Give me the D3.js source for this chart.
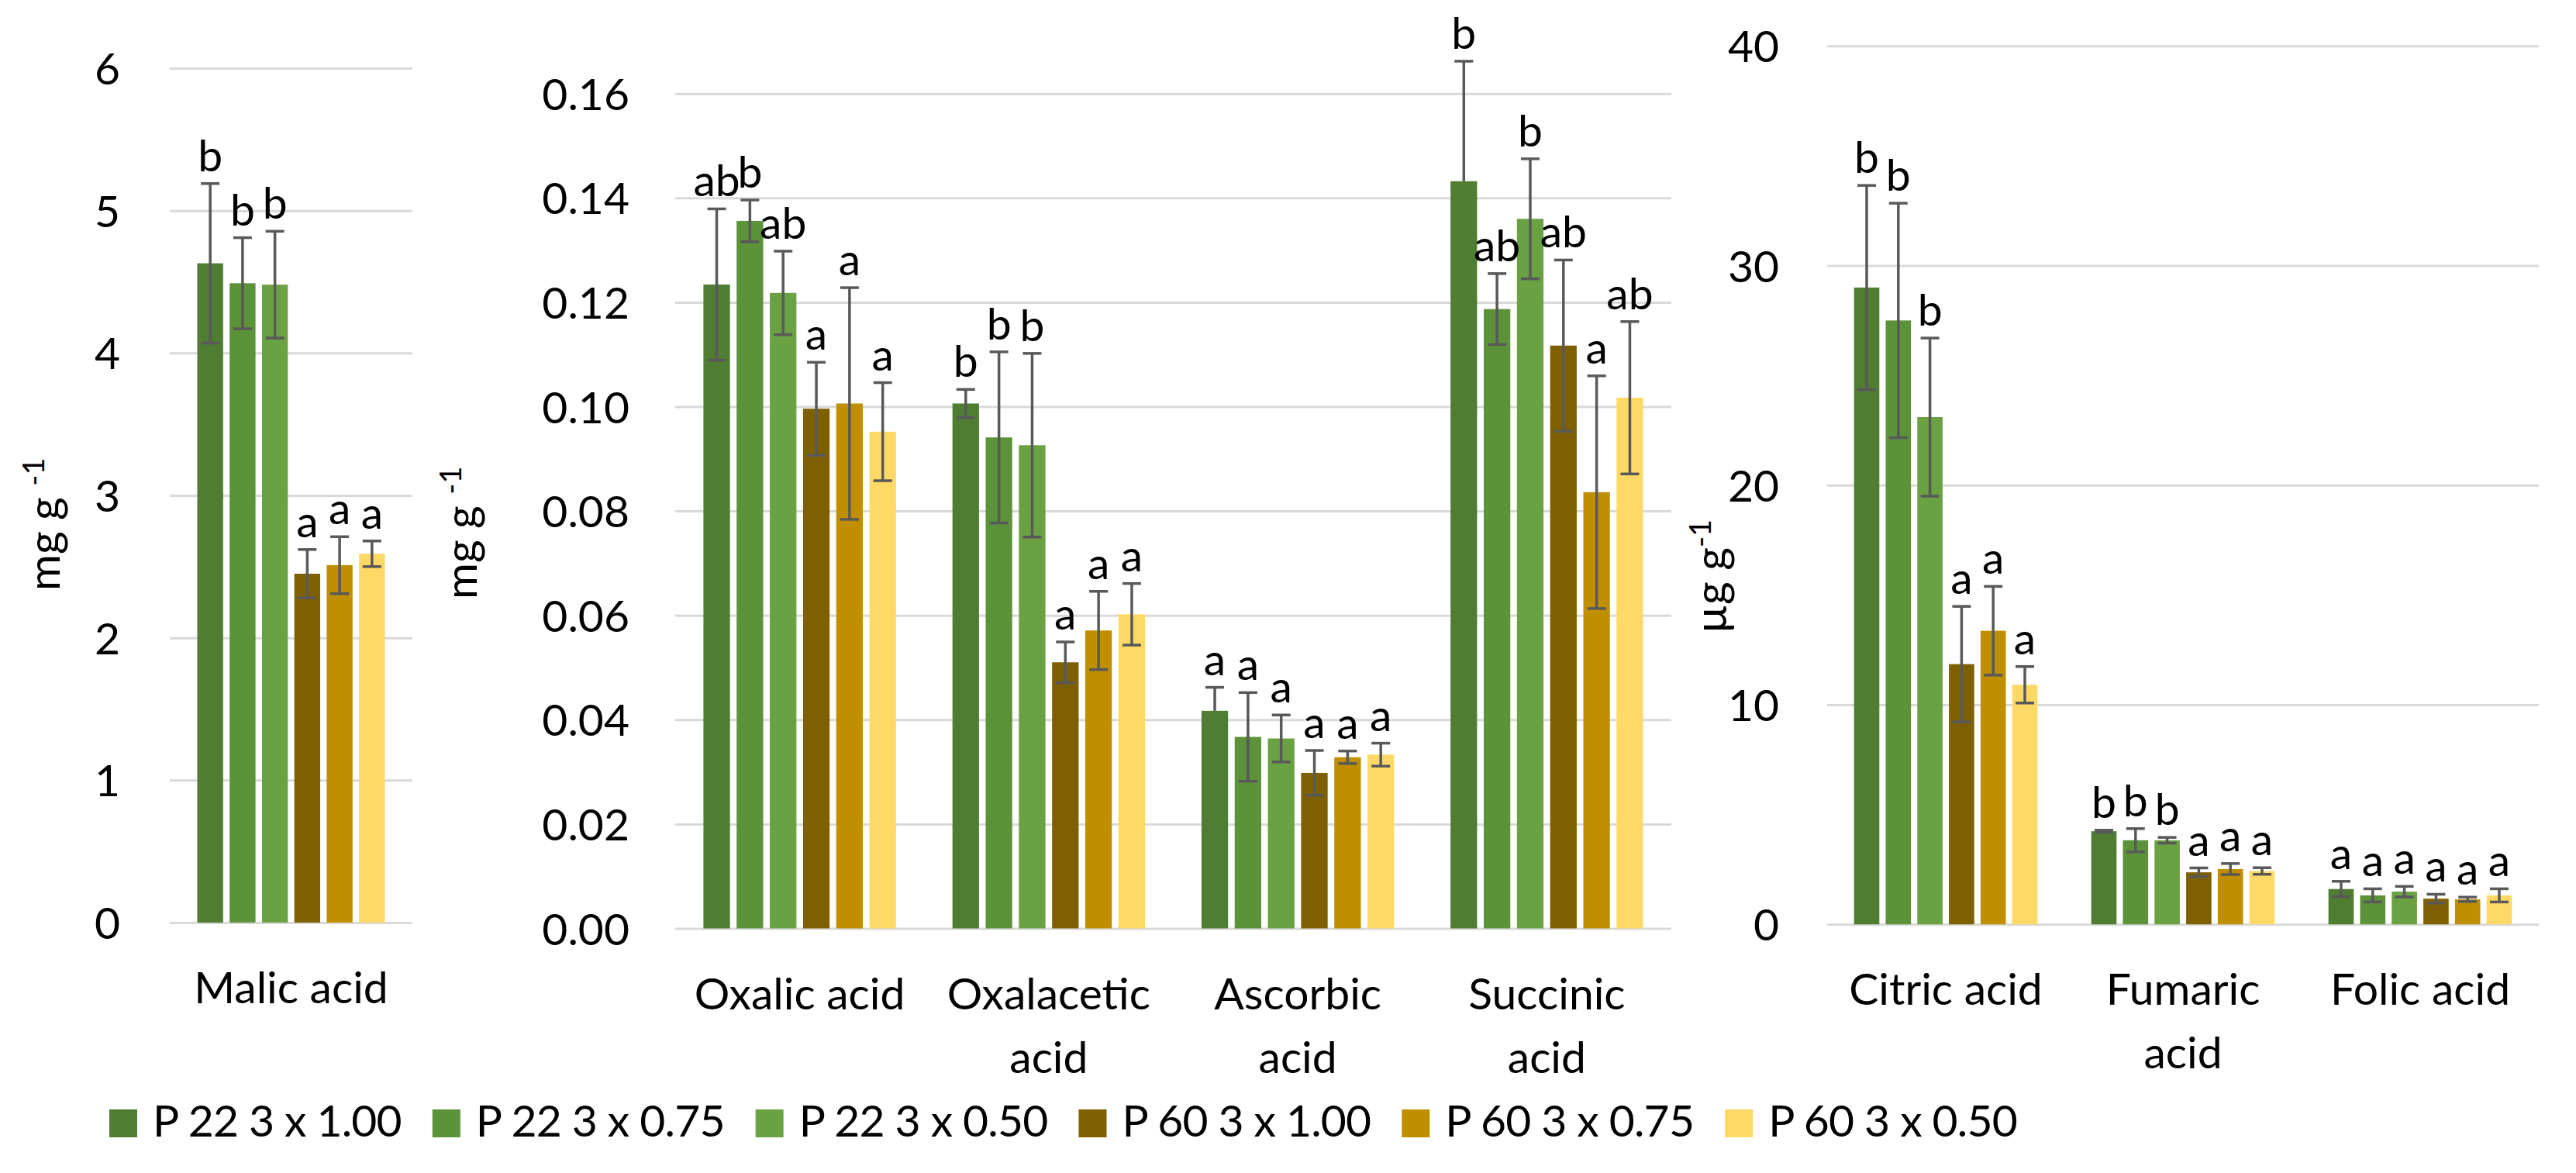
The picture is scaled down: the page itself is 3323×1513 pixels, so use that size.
<!DOCTYPE html>
<html>
<head>
<meta charset="utf-8">
<script src="https://cdn.jsdelivr.net/npm/d3@7/dist/d3.min.js"></script>
<style>
  html, body { margin: 0; padding: 0; background: #ffffff; }
  svg { display: block; }
  text { font-family: Lato, "Noto Sans", sans-serif; fill: #000; }
</style>
</head>
<body>
<svg id="chart"></svg>
<script>
// ---------------- DATA ----------------
const seriesNames = ["P 22 3 x 1.00", "P 22 3 x 0.75", "P 22 3 x 0.50", "P 60 3 x 1.00", "P 60 3 x 0.75", "P 60 3 x 0.50"];
const seriesColors = ["#4F7D32", "#5C9239", "#6AA142", "#7F6000", "#BF8F00", "#FFD966"];

// Panel 1 (mg g-1)
const malicCats = ["Malic acid"];
const malicMeans = [[4.63, 4.49, 4.48, 2.45, 2.51, 2.59]];
const malicErrUp = [[0.56, 0.32, 0.375, 0.17, 0.20, 0.09]];
const malicErrDown = [[0.56, 0.32, 0.375, 0.17, 0.20, 0.09]];
const malicLetters = [["b", "b", "b", "a", "a", "a"]];
const malicTicks = [0, 1, 2, 3, 4, 5, 6];

// Panel 2 (mg g-1)
const mgCats = ["Oxalic acid", "Oxalacetic acid", "Ascorbic acid", "Succinic acid"];
const mgMeans = [
  [0.1234, 0.1356, 0.1218, 0.0996, 0.1006, 0.0952],
  [0.1006, 0.0941, 0.0926, 0.0510, 0.0571, 0.0602],
  [0.0417, 0.0367, 0.0364, 0.0298, 0.0328, 0.0333],
  [0.1432, 0.1187, 0.1360, 0.1117, 0.0836, 0.1017]
];
const mgErrUp = [
  [0.0145, 0.0040, 0.0080, 0.0089, 0.0222, 0.0094],
  [0.0027, 0.0164, 0.0176, 0.0039, 0.0075, 0.0059],
  [0.0045, 0.0085, 0.0045, 0.0043, 0.0012, 0.0022],
  [0.0230, 0.0068, 0.0115, 0.0164, 0.0223, 0.0146]
];
const mgErrDown = [
  [0.0145, 0.0040, 0.0080, 0.0089, 0.0222, 0.0094],
  [0.0027, 0.0164, 0.0176, 0.0039, 0.0075, 0.0059],
  [0.0000, 0.0085, 0.0045, 0.0043, 0.0012, 0.0022],
  [0.0000, 0.0068, 0.0115, 0.0164, 0.0223, 0.0146]
];
const mgLetters = [
  ["ab", "b", "ab", "a", "a", "a"],
  ["b", "b", "b", "a", "a", "a"],
  ["a", "a", "a", "a", "a", "a"],
  ["b", "ab", "b", "ab", "a", "ab"]
];
const mgTicks = [0, 0.02, 0.04, 0.06, 0.08, 0.10, 0.12, 0.14, 0.16];

// Panel 3 (µg g-1)
const ugCats = ["Citric acid", "Fumaric acid", "Folic acid"];
const ugMeans = [
  [29.0, 27.5, 23.1, 11.85, 13.37, 10.91],
  [4.24, 3.83, 3.83, 2.37, 2.52, 2.43],
  [1.61, 1.32, 1.49, 1.17, 1.14, 1.32]
];
const ugErrUp = [
  [4.65, 5.34, 3.60, 2.63, 2.02, 0.83],
  [0.05, 0.53, 0.13, 0.20, 0.25, 0.15],
  [0.35, 0.30, 0.24, 0.20, 0.10, 0.30]
];
const ugErrDown = [
  [4.65, 5.34, 3.60, 2.63, 2.02, 0.83],
  [0.05, 0.53, 0.13, 0.20, 0.25, 0.15],
  [0.35, 0.30, 0.24, 0.20, 0.10, 0.30]
];
const ugLetters = [
  ["b", "b", "b", "a", "a", "a"],
  ["b", "b", "b", "a", "a", "a"],
  ["a", "a", "a", "a", "a", "a"]
];
const ugTicks = [0, 10, 20, 30, 40];

// ---------------- LAYOUT ----------------
const W = 3323, H = 1513;
const FONT = 57;
const svg = d3.select("#chart").attr("width", W).attr("height", H);
svg.append("rect").attr("width", W).attr("height", H).attr("fill", "#fff");

const panels = [
  { cats: malicCats, means: malicMeans, up: malicErrUp, down: malicErrDown, letters: malicLetters,
    ticks: malicTicks, fmt: d3.format("d"), yMax: 6,
    left: 219, right: 532, base: 1190, top: 88, pad: 64,
    unit: "mg g ", titleX: 77, titleY: 762 },
  { cats: mgCats, means: mgMeans, up: mgErrUp, down: mgErrDown, letters: mgLetters,
    ticks: mgTicks, fmt: d3.format(".2f"), yMax: 0.16,
    left: 871, right: 2156, base: 1197.5, top: 120.7, pad: 59,
    unit: "mg g ", titleX: 615, titleY: 773 },
  { cats: ugCats, means: ugMeans, up: ugErrUp, down: ugErrDown, letters: ugLetters,
    ticks: ugTicks, fmt: d3.format("d"), yMax: 40,
    left: 2357, right: 3275, base: 1192.3, top: 59.3, pad: 62,
    unit: "\u00B5g g", titleX: 2227, titleY: 817 }
];

panels.forEach(p => {
  const g = svg.append("g");
  const y = d3.scaleLinear().domain([0, p.yMax]).range([p.base, p.top]);
  const x0 = d3.scaleBand().domain(p.cats).range([p.left, p.right]).paddingInner(0.2).paddingOuter(0.1);
  const x1 = d3.scaleBand().domain(d3.range(seriesNames.length)).range([0, x0.bandwidth()])
               .paddingInner(0.2).paddingOuter(0.1);

  // gridlines + tick labels
  const ax = g.append("g").attr("transform", `translate(${p.left},0)`)
    .call(d3.axisLeft(y).tickValues(p.ticks).tickFormat(p.fmt)
      .tickSizeInner(-(p.right - p.left)).tickSizeOuter(0).tickPadding(p.pad));
  ax.select(".domain").remove();
  ax.selectAll(".tick line").attr("stroke", "#D9D9D9").attr("stroke-width", 3);
  ax.selectAll(".tick text").attr("font-size", FONT).attr("fill", "#000")
    .attr("font-family", "Lato, 'Noto Sans', sans-serif").attr("dy", "0.36em");

  // bars
  const rows = p.cats.map((c, ci) => p.means[ci].map((v, si) => ({
    cat: c, si, v, up: p.up[ci][si], down: p.down[ci][si], letter: p.letters[ci][si]
  }))).flat();

  const bx = d => x0(d.cat) + x1(d.si);
  const cx = d => bx(d) + x1.bandwidth() / 2;

  g.selectAll("rect.bar").data(rows).enter().append("rect")
    .attr("class", "bar")
    .attr("x", bx).attr("width", x1.bandwidth())
    .attr("y", d => y(d.v)).attr("height", d => y(0) - y(d.v))
    .attr("fill", d => seriesColors[d.si]);

  // error bars
  const capW = 24;
  const eb = g.selectAll("g.err").data(rows).enter().append("g").attr("class", "err")
    .attr("stroke", "#595959").attr("stroke-width", 3.5);
  eb.append("line")
    .attr("x1", cx).attr("x2", cx)
    .attr("y1", d => y(d.v + d.up)).attr("y2", d => y(d.v - d.down));
  eb.append("line")
    .attr("x1", d => cx(d) - capW / 2).attr("x2", d => cx(d) + capW / 2)
    .attr("y1", d => y(d.v + d.up)).attr("y2", d => y(d.v + d.up));
  eb.filter(d => d.down > 0).append("line")
    .attr("x1", d => cx(d) - capW / 2).attr("x2", d => cx(d) + capW / 2)
    .attr("y1", d => y(d.v - d.down)).attr("y2", d => y(d.v - d.down));

  // significance letters
  g.selectAll("text.letter").data(rows).enter().append("text")
    .attr("class", "letter")
    .attr("x", cx).attr("y", d => y(d.v + d.up) - 16)
    .attr("text-anchor", "middle").attr("font-size", FONT)
    .text(d => d.letter);

  // category labels (wrapped like the original when too wide)
  p.cats.forEach(c => {
    const t = g.append("text").attr("text-anchor", "middle").attr("font-size", FONT)
      .attr("x", x0(c) + x0.bandwidth() / 2).attr("y", p.base + 104).text(c);
    if (t.node().getComputedTextLength() > 0.9 * x0.step()) {
      const words = c.split(" ");
      const last = words.pop();
      t.text(null);
      t.append("tspan").attr("x", x0(c) + x0.bandwidth() / 2).text(words.join(" "));
      t.append("tspan").attr("x", x0(c) + x0.bandwidth() / 2).attr("dy", 82).text(last);
    }
  });

  // y axis title
  const tt = svg.append("text").attr("font-size", FONT)
    .attr("transform", `translate(${p.titleX},${p.titleY}) rotate(-90)`);
  tt.append("tspan").text(p.unit);
  tt.append("tspan").attr("font-size", 38).attr("dy", -20).text("-1");
});

// ---------------- LEGEND ----------------
const leg = svg.append("g");
let lx = 141;
seriesNames.forEach((name, i) => {
  leg.append("rect").attr("x", lx).attr("y", 1431).attr("width", 36).attr("height", 36)
    .attr("fill", seriesColors[i]);
  const t = leg.append("text").attr("x", lx + 56).attr("y", 1466).attr("font-size", FONT)
    .attr("letter-spacing", -0.8).text(name);
  lx = lx + 56 + t.node().getComputedTextLength() + 40;
});
</script>
</body>
</html>
